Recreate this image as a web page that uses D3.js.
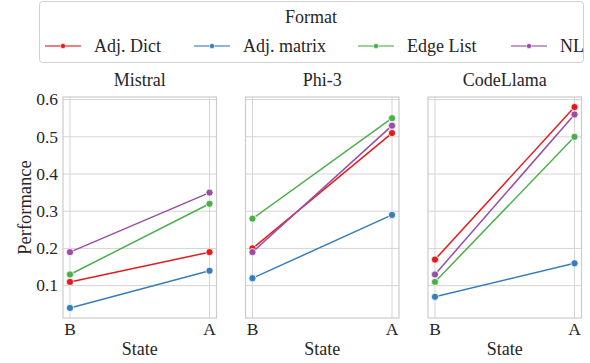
<!DOCTYPE html>
<html>
<head>
<meta charset="utf-8">
<script src="https://cdn.jsdelivr.net/npm/d3@7"></script>
<style>
  body { margin: 0; background: #fff; }
  text { font-family: "Liberation Serif", "DejaVu Serif", serif; fill: #262626; }
</style>
</head>
<body>
<div id="plot"></div>
<script>
// data
const models = ["Mistral", "Phi-3", "CodeLlama"];
const states = ["B", "A"];
const formats = ["Adj. Dict", "Adj. matrix", "Edge List", "NL"];
const colors = ["#e41a1c", "#377eb8", "#4daf4a", "#984ea3"];
const yTicks = [0.1, 0.2, 0.3, 0.4, 0.5, 0.6];

// values per model, per format: [B, A]
const mistral   = [[0.11, 0.19], [0.04, 0.14], [0.13, 0.32], [0.19, 0.35]];
const phi3      = [[0.20, 0.51], [0.12, 0.29], [0.28, 0.55], [0.19, 0.53]];
const codellama = [[0.17, 0.58], [0.07, 0.16], [0.11, 0.50], [0.13, 0.56]];
const values = [mistral, phi3, codellama];

const width = 590, height = 363;
const panelLeft = [63, 245.5, 428];
const panelW = 153.5;
const plotTop = 97, plotBottom = 318;

const svg = d3.select("#plot").append("svg")
  .attr("width", width)
  .attr("height", height);

const y = d3.scaleLinear().domain([0.013, 0.607]).range([plotBottom, plotTop]);

models.forEach((model, p) => {
  // categorical x with 5% margin on both sides, like seaborn
  const xs = d3.scaleLinear().domain([-0.05, 1.05]).range([panelLeft[p], panelLeft[p] + panelW]);
  const xpos = s => xs(states.indexOf(s));

  const g = svg.append("g");

  // grid
  g.selectAll(".hgrid").data(yTicks).enter().append("line")
    .attr("x1", panelLeft[p]).attr("x2", panelLeft[p] + panelW)
    .attr("y1", d => y(d)).attr("y2", d => y(d))
    .attr("stroke", "#d4d4d4").attr("stroke-width", 1);
  g.selectAll(".vgrid").data(states).enter().append("line")
    .attr("x1", d => xpos(d)).attr("x2", d => xpos(d))
    .attr("y1", plotTop).attr("y2", plotBottom)
    .attr("stroke", "#d4d4d4").attr("stroke-width", 1);

  // frame
  g.append("rect")
    .attr("x", panelLeft[p]).attr("y", plotTop)
    .attr("width", panelW).attr("height", plotBottom - plotTop)
    .attr("fill", "none").attr("stroke", "#cccccc").attr("stroke-width", 1.2);

  // lines + markers
  const line = d3.line().x((d, i) => xpos(states[i])).y(d => y(d));
  values[p].forEach((vals, f) => {
    g.append("path").datum(vals)
      .attr("d", line)
      .attr("fill", "none")
      .attr("stroke", colors[f])
      .attr("stroke-width", 1.5);
    g.selectAll(".pt" + f).data(vals).enter().append("circle")
      .attr("cx", (d, i) => xpos(states[i]))
      .attr("cy", d => y(d))
      .attr("r", 3.6)
      .attr("fill", colors[f])
      .attr("stroke", "#fff")
      .attr("stroke-width", 0.8);
  });

  // x ticks
  g.selectAll(".xt").data(states).enter().append("text")
    .attr("x", d => xpos(d)).attr("y", 335)
    .attr("text-anchor", "middle")
    .style("font-size", "17.5px")
    .text(d => d);

  // x label
  g.append("text")
    .attr("x", panelLeft[p] + panelW / 2).attr("y", 355)
    .attr("text-anchor", "middle")
    .style("font-size", "18px")
    .text("State");

  // title
  g.append("text")
    .attr("x", panelLeft[p] + panelW / 2).attr("y", 86)
    .attr("text-anchor", "middle")
    .style("font-size", "18px")
    .text(model);

  // y ticks on first panel
  if (p === 0) {
    g.selectAll(".yt").data(yTicks).enter().append("text")
      .attr("x", panelLeft[p] - 5).attr("y", d => y(d))
      .attr("dy", "0.33em")
      .attr("text-anchor", "end")
      .style("font-size", "17.5px")
      .text(d => d3.format(".1f")(d));
  }
});

// y label
svg.append("text")
  .attr("transform", "translate(25," + ((plotTop + plotBottom) / 2) + ") rotate(-90)")
  .attr("dy", "0.33em")
  .attr("text-anchor", "middle")
  .style("font-size", "18.5px")
  .text("Performance");

// legend
const leg = svg.append("g");
leg.append("rect")
  .attr("x", 39.5).attr("y", 1.5)
  .attr("width", 544).attr("height", 61)
  .attr("rx", 3)
  .attr("fill", "#fff")
  .attr("stroke", "#d0d0d0");
leg.append("text")
  .attr("x", 311).attr("y", 23)
  .attr("text-anchor", "middle")
  .style("font-size", "18px")
  .text("Format");
const legX = [45, 194, 358, 511];
formats.forEach((f, i) => {
  const e = leg.append("g").attr("transform", "translate(" + legX[i] + ",46)");
  e.append("line").attr("x1", 0).attr("x2", 36)
    .attr("stroke", colors[i]).attr("stroke-width", 1.5).attr("opacity", 0.75);
  e.append("circle").attr("cx", 18).attr("r", 2.6)
    .attr("fill", colors[i]).attr("stroke", "#fff").attr("stroke-width", 0.6);
  e.append("text").attr("x", 49).attr("dy", "0.33em")
    .style("font-size", "18px")
    .text(f);
});
</script>
</body>
</html>
